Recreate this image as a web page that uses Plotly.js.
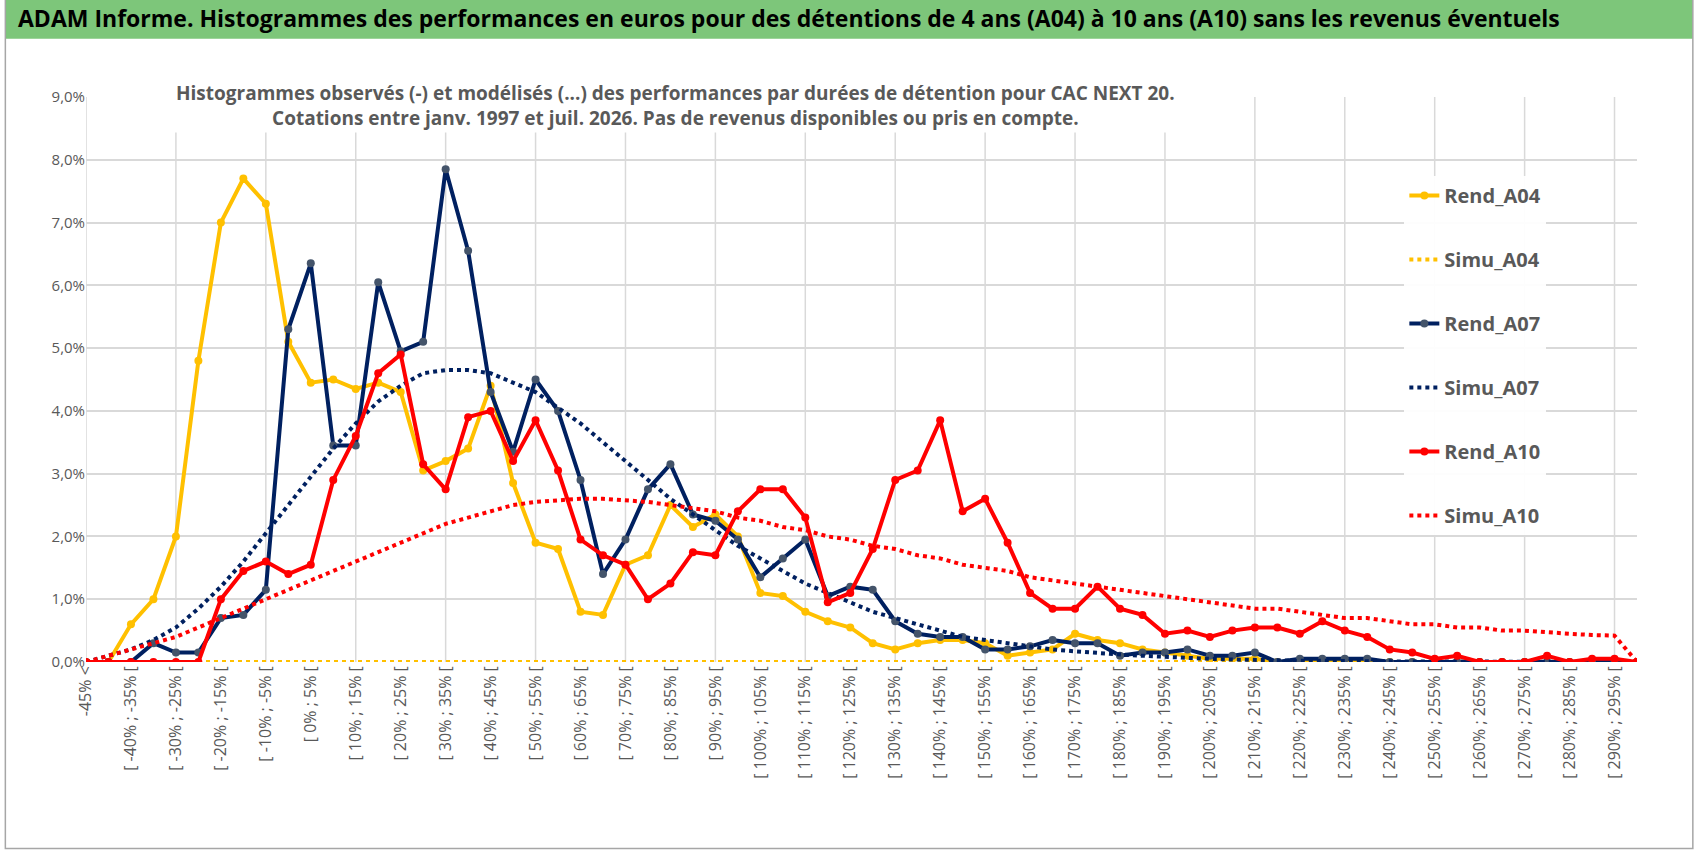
<!DOCTYPE html>
<html>
<head>
<meta charset="utf-8">
<script src="https://cdn.plot.ly/plotly-3.0.1.min.js"></script>
<style>
body { margin: 0; background: #fff; }
#graph { width: 1698px; height: 854px; }
</style>
</head>
<body>
<div id="graph"></div>
<script>
// categories: "-45% <" then 5% bins
var categorias = ['-45% &lt;'];
for (var k = 1; k <= 68; k++) {
  var a = -50 + 5 * k;
  categorias.push('[ ' + a + '% ; ' + (a + 5) + '% [');
}
categorias.push('295% &gt;');
var idx = categorias.map(function (c, i) { return i; });

var rend_a04 = [0, 0, 0.6, 1.0, 2.0, 4.8, 7.0, 7.7, 7.3, 5.1, 4.45, 4.5, 4.35, 4.45, 4.3, 3.05, 3.2, 3.4, 4.4, 2.85,
  1.9, 1.8, 0.8, 0.75, 1.55, 1.7, 2.5, 2.15, 2.35, 2.0, 1.1, 1.05, 0.8, 0.65, 0.55, 0.3, 0.2, 0.3, 0.35, 0.35,
  0.3, 0.1, 0.15, 0.2, 0.45, 0.35, 0.3, 0.2, 0.15, 0.1, 0.05, 0.05, 0.05, 0, 0, 0, 0, 0, 0, 0,
  0, 0, 0, 0, 0, 0, 0, 0, 0, 0];
var simu_a04 = idx.map(function () { return 0; });
var rend_a07 = [0, 0, 0, 0.3, 0.15, 0.15, 0.7, 0.75, 1.15, 5.3, 6.35, 3.45, 3.45, 6.05, 4.95, 5.1, 7.85, 6.55, 4.3, 3.35,
  4.5, 4.0, 2.9, 1.4, 1.95, 2.75, 3.15, 2.35, 2.25, 1.95, 1.35, 1.65, 1.95, 1.05, 1.2, 1.15, 0.65, 0.45, 0.4, 0.4,
  0.2, 0.2, 0.25, 0.35, 0.3, 0.3, 0.1, 0.15, 0.15, 0.2, 0.1, 0.1, 0.15, 0.0, 0.05, 0.05, 0.05, 0.05, 0, 0,
  0, 0, 0, 0, 0, 0, 0, 0, 0, 0];
var simu_a07 = [0, 0.1, 0.2, 0.35, 0.55, 0.85, 1.2, 1.6, 2.05, 2.5, 2.95, 3.4, 3.8, 4.15, 4.4, 4.6, 4.65, 4.65, 4.6, 4.45,
  4.3, 4.05, 3.8, 3.5, 3.2, 2.9, 2.6, 2.35, 2.1, 1.85, 1.65, 1.45, 1.25, 1.1, 0.95, 0.8, 0.7, 0.6, 0.5, 0.4,
  0.35, 0.3, 0.25, 0.2, 0.17, 0.14, 0.12, 0.1, 0.08, 0.06, 0.05, 0.04, 0.03, 0.03, 0.02, 0.02, 0.01, 0.01, 0.01, 0.01,
  0, 0, 0, 0, 0, 0, 0, 0, 0, 0];
var rend_a10 = [0, 0, 0, 0, 0, 0, 1.0, 1.45, 1.6, 1.4, 1.55, 2.9, 3.6, 4.6, 4.9, 3.15, 2.75, 3.9, 4.0, 3.2,
  3.85, 3.05, 1.95, 1.7, 1.55, 1.0, 1.25, 1.75, 1.7, 2.4, 2.75, 2.75, 2.3, 0.95, 1.1, 1.8, 2.9, 3.05, 3.85, 2.4,
  2.6, 1.9, 1.1, 0.85, 0.85, 1.2, 0.85, 0.75, 0.45, 0.5, 0.4, 0.5, 0.55, 0.55, 0.45, 0.65, 0.5, 0.4, 0.2, 0.15,
  0.05, 0.1, 0.0, 0.0, 0.0, 0.1, 0.0, 0.05, 0.05, 0.0];
var simu_a10 = [0, 0.1, 0.2, 0.3, 0.4, 0.55, 0.7, 0.85, 1.0, 1.15, 1.3, 1.45, 1.6, 1.75, 1.9, 2.05, 2.2, 2.3, 2.4, 2.5,
  2.55, 2.58, 2.6, 2.6, 2.58, 2.55, 2.5, 2.45, 2.4, 2.3, 2.25, 2.15, 2.1, 2.0, 1.95, 1.85, 1.8, 1.7, 1.65, 1.55,
  1.5, 1.45, 1.35, 1.3, 1.25, 1.2, 1.15, 1.1, 1.05, 1.0, 0.95, 0.9, 0.85, 0.85, 0.8, 0.75, 0.7, 0.7, 0.65, 0.6,
  0.6, 0.55, 0.55, 0.5, 0.5, 0.47, 0.45, 0.43, 0.42, 0];

var jaune = '#FFC000', marine = '#002060', rouge = '#FF0000';
var pct = function (arr) { return arr.map(function (v) { return v / 100; }); };

function rend(nom, y, couleur, marqueur) {
  return { x: idx, y: pct(y), name: nom, legendgroup: nom, type: 'scatter', mode: 'lines+markers',
    line: { color: couleur, width: 4 }, marker: { color: marqueur, size: 8 } };
}
function simu(nom, y, couleur) {
  return { x: idx, y: pct(y), name: nom, legendgroup: nom, type: 'scatter', mode: 'lines',
    line: { color: couleur, width: 4, dash: 'dot' } };
}

var data = [
  rend('Rend_A04', rend_a04, jaune, jaune),
  simu('Simu_A04', simu_a04, jaune),
  rend('Rend_A07', rend_a07, marine, '#44546A'),
  simu('Simu_A07', simu_a07, marine),
  rend('Rend_A10', rend_a10, rouge, rouge),
  simu('Simu_A10', simu_a10, rouge)
];

var tickv = idx.filter(function (i) { return i % 2 === 0 && i < 69; });
var shapes = [];
for (var g = 0; g <= 68; g += 4) {
  shapes.push({ type: 'line', xref: 'x', yref: 'paper', x0: g, x1: g, y0: 0, y1: 1, layer: 'below',
    line: { color: '#D9D9D9', width: 1.5 } });
}
shapes.push({ type: 'rect', xref: 'paper', yref: 'paper', x0: -0.052, x1: 1.036, y0: 1.103, y1: 1.175,
  fillcolor: '#7DC67A', line: { width: 0 }, layer: 'below' });
shapes.push({ type: 'rect', xref: 'paper', yref: 'paper', x0: -0.052, x1: 1.036, y0: -0.33, y1: 1.175,
  fillcolor: 'rgba(0,0,0,0)', line: { color: '#A6A6A6', width: 1.5 }, layer: 'below' });

var layout = {
  width: 1698, height: 854,
  margin: { l: 86, r: 61, t: 97, b: 192 },
  paper_bgcolor: '#fff', plot_bgcolor: '#fff',
  font: { family: 'Liberation Sans Narrow, Open Sans, sans-serif', color: '#595959' },
  showlegend: true,
  legend: { x: 0.85, y: 0.86, xanchor: 'left', yanchor: 'top', bgcolor: 'rgba(255,255,255,0.95)',
    font: { size: 20, color: '#595959', family: 'Liberation Sans Narrow, Open Sans, sans-serif', weight: 'bold' },
    tracegroupgap: 35 },
  xaxis: { range: [0, 69], tickmode: 'array', tickvals: tickv,
    ticktext: tickv.map(function (i) { return categorias[i]; }),
    tickangle: -90, tickfont: { size: 16, color: '#595959' }, showgrid: false, zeroline: false,
    showline: false, ticks: '' },
  yaxis: { range: [0, 0.09], dtick: 0.01, tickformat: '.1%',
    gridcolor: '#D9D9D9', gridwidth: 1.5, zeroline: false, tickfont: { size: 15, color: '#595959' },
    showline: false, ticks: '' },
  separators: ', ',
  shapes: shapes,
  annotations: [
    { xref: 'paper', yref: 'paper', x: -0.045, y: 1.14, xanchor: 'left', yanchor: 'middle', showarrow: false,
      text: '<b>ADAM Informe. Histogrammes des performances en euros pour des détentions de 4 ans (A04) à 10 ans (A10) sans les revenus éventuels</b>',
      font: { size: 23, color: '#000' } },
    { xref: 'paper', yref: 'paper', x: 0.38, y: 0.985, xanchor: 'center', yanchor: 'middle', showarrow: false,
      bgcolor: '#fff',
      text: '<b>Histogrammes observés (-) et modélisés (...) des performances par durées de détention pour CAC NEXT 20.<br>Cotations entre janv. 1997 et juil. 2026. Pas de revenus disponibles ou pris en compte.</b>',
      font: { size: 19, color: '#595959' } }
  ]
};

Plotly.newPlot('graph', data, layout, { displayModeBar: false });
</script>
</body>
</html>
